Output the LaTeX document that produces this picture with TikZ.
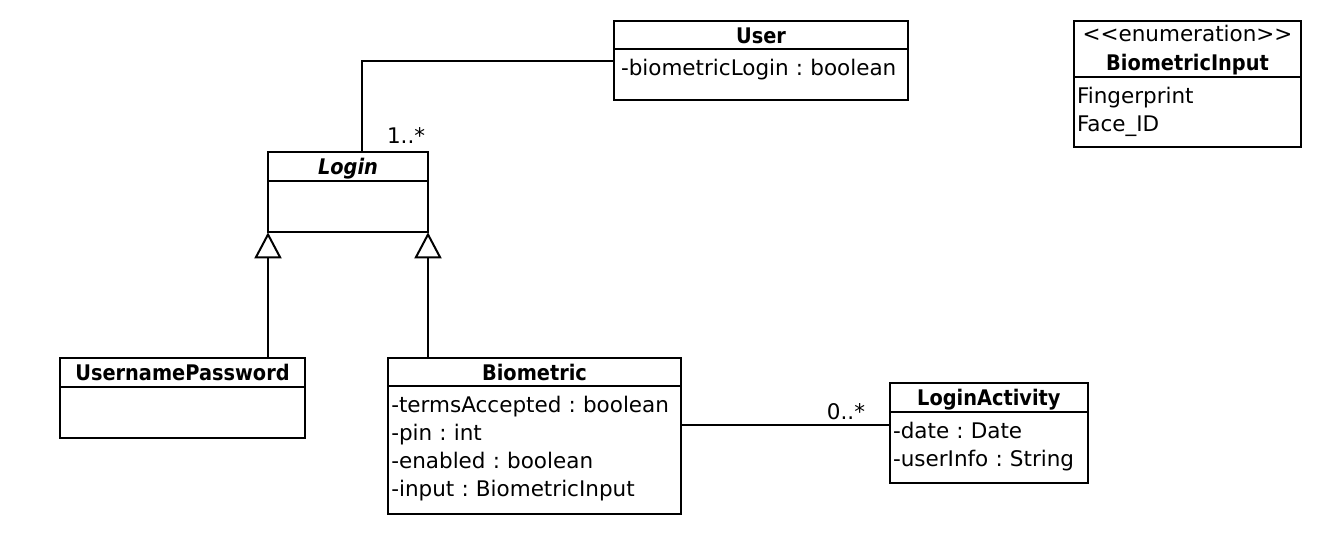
\documentclass[tikz,border=0pt]{standalone}
\usepackage{fontspec}
\setmainfont{DejaVu Sans}[
  BoldFeatures={FakeStretch=0.9},
  BoldItalicFeatures={FakeStretch=0.9}
]
\usepackage{tikz}
\usetikzlibrary{
  arrows.meta,
  positioning,
  calc
}
\frenchspacing

\begin{document}
\begin{tikzpicture}[
      x=1pt,y=-1pt,
      line width=2pt,
      classname/.style={
         rectangle,
         draw=black,
         inner sep=0pt,
         outer sep=0pt,
         minimum height=28pt,
         text height=18pt,
         text depth=2pt,
         font=\fontsize{21.5}{27.8}\selectfont\bfseries
      },
      classbody/.style={
         rectangle,
         draw=black,
         inner xsep=3pt,
         inner ysep=0pt,
         outer sep=0pt,
         align=left,
         text height=26.5pt,
         font=\fontsize{21.5}{27.8}\selectfont
      },
      multiplicity/.style={
         inner sep=0pt,
         font=\fontsize{21.5}{27.8}\selectfont
      },
      inherit/.style={-{Triangle[open,length=26pt,width=27pt]}},
      %hv path/.style={to path={-| (\tikztotarget)}},
      vh path/.style={to path={|- (\tikztotarget)}}
    ]
    \useasboundingbox (0,0) rectangle (1326,558);

    \node (user) [classname, minimum width=294pt, anchor=north west] at (614,21) {User};
    \node (user attr) [classbody, inner xsep=7pt, text width=280pt, text depth=24.5pt, below=0pt of user] {-biometricLogin : boolean};

    \node (enum) [classname, align=center, minimum width=227pt, minimum height=56pt, text height=49.5pt, text depth=6.5pt, anchor=north west] at (1074,21) {{\mdseries <{}<enumeration>{}>}\\[1.5pt]BiometricInput};
    \node (enum attr) [classbody, text width=221pt, text depth=43.5pt, below=0pt of enum] {Fingerprint\\Face\_ID};

    \node (login) [classname, minimum width=160pt, minimum height=28.4pt, anchor=north west] at (268,152.3) {\itshape Login};
    \node (login attr) [classbody, text width=154pt, text depth=25.1pt, below=0pt of login] {};

    \node (userpass) [classname, minimum width=245pt, minimum height=28.4pt, anchor=north west] at (60,358.3) {UsernamePassword};
    \node (userpass attr) [classbody, text width=239pt, text depth=25.1pt, below=0pt of userpass] {};

    \node (bio) [classname, minimum width=292.4pt, anchor=north west] at (388.3,358.3) {Biometric};
    \node (bio attr) [classbody, text width=286.4pt, text depth=100.8pt, below=0pt of bio] {-termsAccepted : boolean\\-pin : int\\-enabled : boolean\\-input : BiometricInput};

    \node (activity) [classname, minimum width=197.7pt, minimum height=29pt, anchor=north west] at (890,382.7) {LoginActivity};
    \node (activity attr) [classbody, text width=191.7pt, text depth=44.5pt, below=0pt of activity] {-date : Date\\-userInfo : String};

    \coordinate (user west) at ($(user.north west)!.5!(user attr.south west)$);
    \coordinate (activity port) at ([yshift=-13.3pt]activity.south west);

    \draw ([xshift=14pt]login.north) node[multiplicity, anchor=base west, xshift=24pt, yshift=9pt] {1..*} to[vh path] (user west);
    \draw[inherit] (userpass.north -| login attr.south west) -- (login attr.south west);
    \draw[inherit] (bio.north -| login attr.south east) -- (login attr.south east);
    \draw (activity port) node[multiplicity, anchor=base east, xshift=-24pt, yshift=5.7pt] {0..*} -- (activity port -| bio attr.east);
\end{tikzpicture}
\end{document}
